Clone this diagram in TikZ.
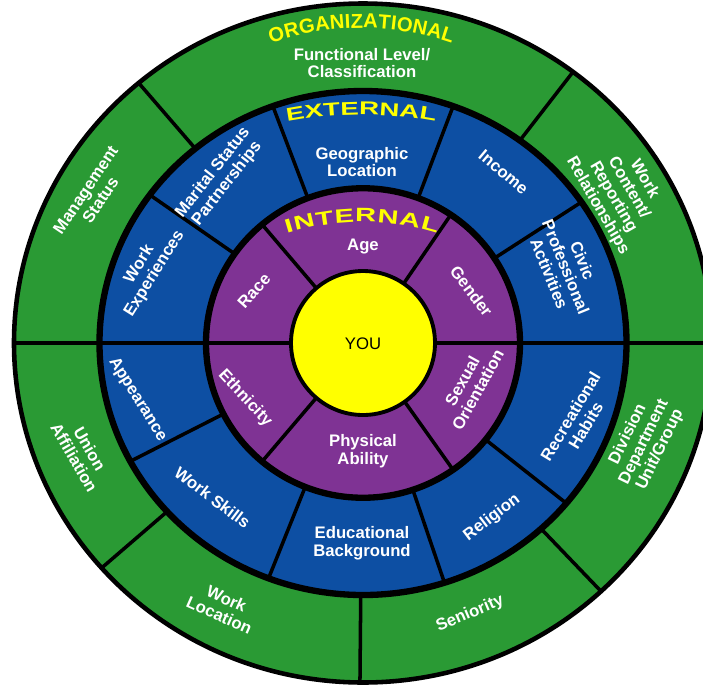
\documentclass[tikz,border=0pt]{standalone}
\usepackage{fontspec}
\setmainfont{Liberation Sans}
\newfontfamily\ringfont[FakeStretch=1.5,BoldFeatures={FakeStretch=1.5}]{Liberation Sans}
\usetikzlibrary{decorations.text}
\definecolor{OrgClr}{RGB}{42,154,52}
\definecolor{ExtClr}{RGB}{13,79,163}
\definecolor{IntClr}{RGB}{127,51,148}
\definecolor{YouClr}{RGB}{255,255,0}
\definecolor{TitleClr}{RGB}{255,255,0}

\tikzset{
  lbl/.style={text=white,align=center,inner sep=1pt,font=\bfseries\fontsize{9.5}{10.2}\selectfont},
  divider/.style={line width=2pt},
  ringline/.style={draw=black,line width=3.6pt}
}

\begin{document}
\begin{tikzpicture}
\useasboundingbox (-7.26,-6.84) rectangle (6.80,6.86);

% organizational ring
\fill[OrgClr] (0,0) ellipse[x radius=6.98,y radius=6.79];
\foreach \a in {0,53,130,180,221.5,269.5,313}
  \draw[divider] (0,0) -- (\a:6.98 and 6.79);

% external ring
\filldraw[fill=ExtClr,ringline] (0,0) ellipse[x radius=5.27,y radius=5.04];
\foreach \a in {0,34,70,110,144,180,208,249,288,320.5}
  \draw[divider] (0,0) -- (\a:5.27 and 5.04);

% internal ring
\filldraw[fill=IntClr,ringline] (0,0) ellipse[x radius=3.14,y radius=3.095];
\foreach \a in {0,56,130,180,230,305}
  \draw[divider] (0,0) -- (\a:3.14 and 3.095);

\filldraw[fill=YouClr,draw=black,line width=2.2pt] (0,0) circle[radius=1.44];
\draw[line width=2.6pt] (0,0) ellipse[x radius=6.98,y radius=6.79];

% ring titles
\path[shift={(-0.03,0.74)},decorate,decoration={text along path,text align=fit to path,text color=TitleClr,
  text={|\bfseries\fontsize{11.5}{13}\selectfont|ORGANIZATIONAL}}]
  (109:5.56) arc[start angle=109,end angle=71,radius=5.56];
\path[shift={(-0.02,-3.44)},decorate,decoration={text along path,text align=fit to path,text color=TitleClr,
  text={|\ringfont\bfseries\fontsize{10.5}{12}\selectfont|EXTERNAL}}]
  (100.8:8) arc[start angle=100.8,end angle=79.4,radius=8];
\path[shift={(-0.02,-2.58)},decorate,decoration={text along path,text align=fit to path,text color=TitleClr,
  text={|\ringfont\bfseries\fontsize{11}{12}\selectfont|INTERNAL}}]
  (107.5:5) arc[start angle=107.5,end angle=72.5,radius=5];

% organizational
\node[lbl] (funclevel) at (-0.02,5.60) {Functional Level/\\Classification};
\node[lbl,rotate=56] (mgmt) at (-5.40,2.96) {Management\\Status};
\node[lbl,rotate=-60] (workcontent) at (5.16,3.01) {Work\\Content/\\Reporting\\Relationships};
\node[lbl,rotate=64] (division) at (5.62,-1.98) {Division\\Department\\Unit/Group};
\node[lbl,rotate=23] (seniority) at (2.14,-5.42) {Seniority};
\node[lbl,rotate=-24] (worklocation) at (-2.80,-5.28) {Work\\Location};
\node[lbl,rotate=-60] (union) at (-5.62,-2.20) {Union\\Affiliation};

% external
\node[lbl] (geo) at (-0.02,3.62) {Geographic\\Location};
\node[lbl,rotate=-40] (income) at (2.81,3.42) {Income};
\node[lbl,rotate=-68] (civic) at (4.06,1.52) {Civic\\Professional\\Activities};
\node[lbl,rotate=59] (recreation) at (4.30,-1.56) {Recreational\\Habits};
\node[lbl,rotate=37] (religion) at (2.58,-3.50) {Religion};
\node[lbl] (education) at (-0.02,-4.00) {Educational\\Background};
\node[lbl,rotate=-37] (skills) at (-3.01,-3.09) {Work Skills};
\node[lbl,rotate=-58] (appearance) at (-4.51,-1.13) {Appearance};
\node[lbl,rotate=58] (experience) at (-4.32,1.48) {Work\\Experiences};
\node[lbl,rotate=52] (marital) at (-2.86,3.30) {Marital Status\\Partnerships};

% internal
\node[lbl] (age) at (0,1.92) {Age};
\node[lbl,rotate=-53] (gender) at (2.17,1.04) {Gender};
\node[lbl,rotate=61] (orientation) at (2.14,-0.85) {Sexual\\Orientation};
\node[lbl] (ability) at (0,-2.16) {Physical\\Ability};
\node[lbl,rotate=-47] (ethnicity) at (-2.36,-1.11) {Ethnicity};
\node[lbl,rotate=48] (race) at (-2.18,1.05) {Race};

\node[font=\fontsize{9.5}{10.2}\selectfont] (you) at (0,-0.02) {YOU};
\end{tikzpicture}
\end{document}
